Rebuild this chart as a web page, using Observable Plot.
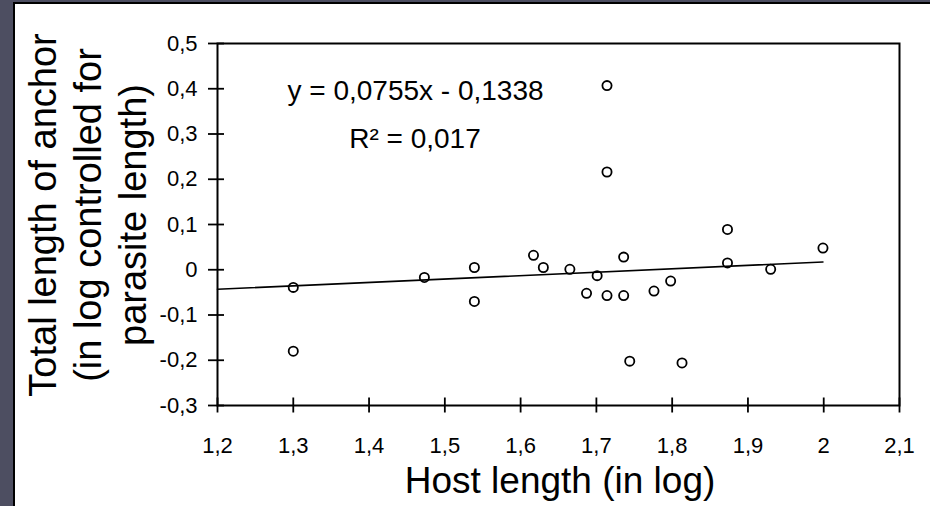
<!DOCTYPE html>
<html><head><meta charset="utf-8">
<script src="https://cdn.jsdelivr.net/npm/d3@7"></script>
<script src="https://cdn.jsdelivr.net/npm/@observablehq/plot@0.6"></script>
<style>
html,body{margin:0;padding:0;background:#fff;overflow:hidden;}
#wrap{position:relative;width:930px;height:506px;overflow:hidden;background:#fff;}
#wrap svg{position:absolute;left:0;top:0;}
.bl{position:absolute;left:0;top:0;width:13px;height:506px;background:#4d4e61;}
.bt{position:absolute;left:0;top:0;width:930px;height:2px;background:#4d4e61;}
.kl{position:absolute;left:13px;top:2px;width:2px;height:504px;background:#000;}
.kt{position:absolute;left:13px;top:2px;width:917px;height:2px;background:#000;}
</style></head><body><div id="wrap"></div>
<script>
// Data
const hostLength   = [1.300, 1.300, 1.473, 1.539, 1.539, 1.617, 1.630, 1.665, 1.701, 1.687, 1.714, 1.736, 1.736, 1.744, 1.776, 1.798, 1.813, 1.873, 1.873, 1.930, 1.999, 1.714, 1.714];
const anchorLength = [-0.039, -0.180, -0.017, 0.005, -0.070, 0.032, 0.005, 0.001, -0.013, -0.052, -0.057, -0.057, 0.028, -0.202, -0.047, -0.025, -0.206, 0.089, 0.015, 0.001, 0.048, 0.407, 0.216];
const xTicks = [1.2, 1.3, 1.4, 1.5, 1.6, 1.7, 1.8, 1.9, 2.0, 2.1];
const yTicks = [-0.3, -0.2, -0.1, 0, 0.1, 0.2, 0.3, 0.4, 0.5];
const slope = 0.0755;
const intercept = -0.1338;
const equationLabel = "y = 0,0755x - 0,1338";
const r2Label = "R\u00B2 = 0,017";
const xTitle = "Host length (in log)";
const yTitleLines = ["Total length of anchor", "(in log controlled for", "parasite length)"];

const fmt = d => String(Math.round(d * 10) / 10).replace(".", ",");
const points = hostLength.map((x, i) => ({x, y: anchorLength[i]}));
const trendX = [xTicks[0], d3.max(hostLength)];
const trend = trendX.map(x => ({x, y: slope * x + intercept}));

const font = "'Liberation Sans', Arial, Helvetica, sans-serif";
const W = 930, H = 506, mL = 217, mR = 31, mT = 43, mB = 101;
const frameW = W - mL - mR, frameH = H - mT - mB;

const chart = Plot.plot({
  width: W, height: H,
  marginLeft: mL, marginRight: mR, marginTop: mT, marginBottom: mB,
  style: {fontFamily: font, background: "transparent", color: "#000"},
  x: {domain: [1.2, 2.1], axis: null},
  y: {domain: [-0.3, 0.5], axis: null},
  marks: [
    Plot.frame({stroke: "#000", strokeWidth: 2}),
    // crossing tick marks
    Plot.tickX(xTicks, {x: d => d, insetTop: frameH - 15, dy: 7.5, stroke: "#000", strokeWidth: 1.8}),
    Plot.tickY(yTicks, {y: d => d, insetRight: frameW - 16, dx: -9, stroke: "#000", strokeWidth: 1.8}),
    // tick labels
    Plot.text(xTicks, {x: d => d, text: fmt, frameAnchor: "bottom", dy: 32, lineAnchor: "top", textAnchor: "middle", fontSize: 22, fill: "#000"}),
    Plot.text(yTicks, {y: d => d, text: fmt, frameAnchor: "left", dx: -20, lineAnchor: "middle", textAnchor: "end", fontSize: 22, fill: "#000"}),
    Plot.line(trend, {x: "x", y: "y", stroke: "#000", strokeWidth: 1.6}),
    Plot.dot(points, {x: "x", y: "y", r: 4.6, stroke: "#000", strokeWidth: 1.8, fill: "none"}),
    Plot.text([equationLabel], {frameAnchor: "top-left", dx: 198, dy: 56, lineAnchor: "bottom", textAnchor: "middle", fontSize: 28, fill: "#000"}),
    Plot.text([r2Label], {frameAnchor: "top-left", dx: 197.5, dy: 104, lineAnchor: "bottom", textAnchor: "middle", fontSize: 28, fill: "#000"}),
    Plot.text([xTitle], {frameAnchor: "bottom", dx: 1.5, dy: 87, lineAnchor: "bottom", textAnchor: "middle", fontSize: 37, fill: "#000"}),
    Plot.text([yTitleLines.join("\n")], {frameAnchor: "left", dx: -131, dy: -9.5, rotate: -90, lineAnchor: "middle", textAnchor: "middle", lineHeight: 1.19, fontSize: 38, fill: "#000"})
  ]
});

const wrap = document.getElementById("wrap");
wrap.appendChild(chart);
for (const c of ["bl", "bt", "kl", "kt"]) {
  const d = document.createElement("div");
  d.className = c;
  wrap.appendChild(d);
}
</script>
</body></html>
